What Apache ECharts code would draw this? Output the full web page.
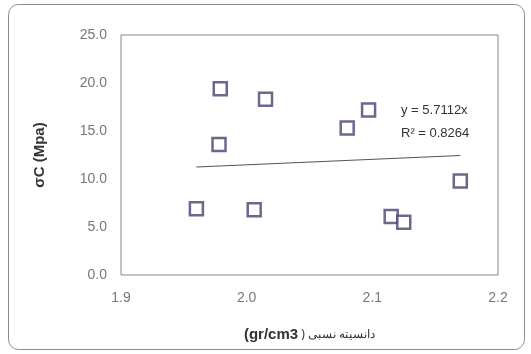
<!DOCTYPE html>
<html><head><meta charset="utf-8">
<script src="https://cdn.jsdelivr.net/npm/echarts@6/dist/echarts.min.js"></script>
<style>html,body{margin:0;padding:0;background:#fff}#c{width:531px;height:354px}</style>
</head><body><div id="c"></div>
<script>
var densityX = [1.979, 2.015, 1.978, 2.080, 2.097, 1.960, 2.006, 2.115, 2.125, 2.170];
var strengthY = [19.4, 18.3, 13.6, 15.3, 17.2, 6.9, 6.8, 6.1, 5.5, 9.8];
var trendX = [1.960, 2.170];
var trendY = [11.25, 12.45];
var xTicks = [1.9, 2.0, 2.1, 2.2];
var yTicks = [0, 5, 10, 15, 20, 25];
var eqLines = ['y = 5.7112x', 'R² = 0.8264'];

var pts = densityX.map(function(x, i){ return [x, strengthY[i]]; });
var tl = trendX.map(function(x, i){ return [x, trendY[i]]; });

var chart = echarts.init(document.getElementById('c'));
chart.setOption({
  animation: false,
  graphic: [
    {type:'rect', shape:{x:8.5, y:4.5, width:516, height:345, r:10}, style:{fill:'none', stroke:'#8c8c8c', lineWidth:1}, z:-1},
    {type:'text', left:401, top:104, style:{text:eqLines[0], font:'13px "Liberation Sans Narrow", "Liberation Sans", sans-serif', fill:'#333'}},
    {type:'text', left:401, top:127, style:{text:eqLines[1], font:'13px "Liberation Sans Narrow", "Liberation Sans", sans-serif', fill:'#333'}}
  ],
  grid: {left:121, right:33, top:35, bottom:79, show:true, borderColor:'#888', borderWidth:1},
  xAxis: {
    type:'value', min:xTicks[0], max:xTicks[xTicks.length-1], interval:0.1,
    axisLine:{show:false}, axisTick:{show:false}, splitLine:{show:false},
    axisLabel:{color:'#777', fontSize:14, margin:16, fontFamily:'Liberation Sans', formatter:function(v){return v.toFixed(1);}},
    name:'{b|(gr/cm3}{n| ) دانسیته نسبی}', nameLocation:'middle', nameGap:52,
    nameTextStyle:{rich:{b:{fontWeight:'bold', fontSize:15, color:'#333', fontFamily:'Liberation Sans'}, n:{fontSize:12, color:'#333', fontFamily:'Noto Sans'}}}
  },
  yAxis: {
    type:'value', min:yTicks[0], max:yTicks[yTicks.length-1], interval:5,
    axisLine:{show:false}, axisTick:{show:false}, splitLine:{show:false},
    axisLabel:{color:'#777', fontSize:14, margin:14, fontFamily:'Liberation Sans', formatter:function(v){return v.toFixed(1);}},
    name:'σC (Mpa)', nameLocation:'middle', nameGap:74,
    nameTextStyle:{fontWeight:'bold', fontSize:15, color:'#333', fontFamily:'Liberation Sans'}
  },
  series: [
    {type:'scatter', data:pts, symbol:'rect', symbolSize:13,
     itemStyle:{color:'#fff', borderColor:'#4b4070', borderWidth:2.5}, z:3},
    {type:'line', data:tl, symbol:'none', lineStyle:{color:'#555', width:1.2}, z:2}
  ]
});
</script></body></html>
